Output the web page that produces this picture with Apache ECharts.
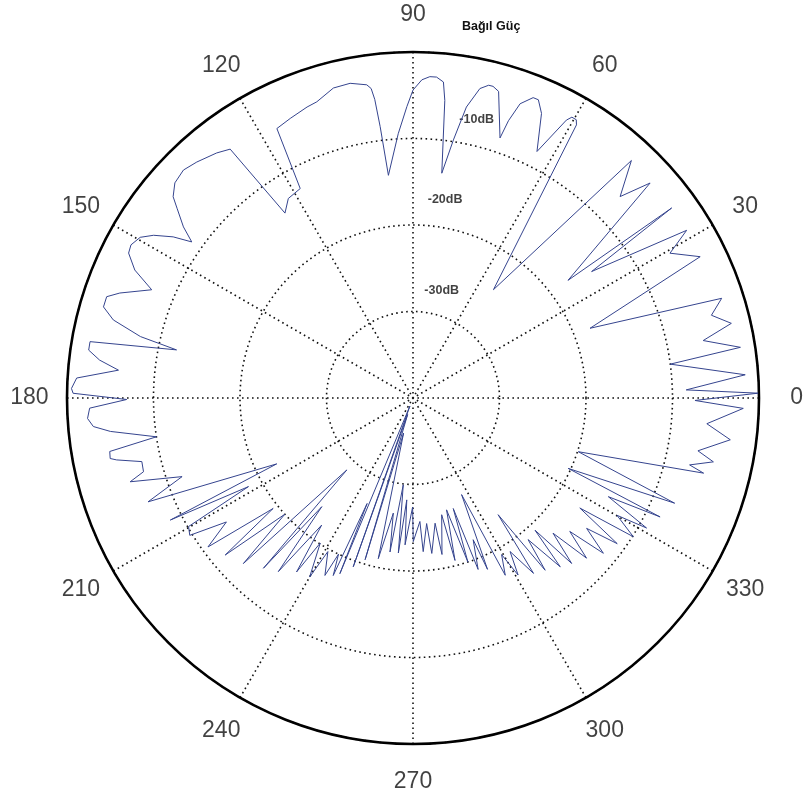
<!DOCTYPE html>
<html><head><meta charset="utf-8">
<script src="https://cdn.jsdelivr.net/npm/echarts@6/dist/echarts.min.js"></script>
<style>html,body{margin:0;padding:0;background:#fff}#c{width:808px;height:799px}</style>
</head><body><div id="c"></div>
<script>
// Pattern trace: angle (degrees) and relative power (dB)
const angles = [
  0.8, 1.7, 4.0, 7.5, 8.8, 11.2, 13.2, 15.5, 17.9, 21.5,
  26.2, 29.4, 31.5, 35.3, 36.3, 37.2, 42.2, 44.2, 47.4, 53.4,
  59.1, 59.6, 60.5, 61.1, 63.3, 65.7, 67.2, 68.2, 70.0, 71.0,
  71.5, 74.4, 75.6, 76.4, 77.8, 79.6, 81.1, 82.7, 83.9, 84.5,
  85.8, 87.0, 88.4, 90.0, 91.2, 93.2, 96.3, 96.9, 97.3, 97.7,
  98.4, 101.3, 104.4, 108.0, 110.0, 113.7, 116.8, 118.3, 122.0, 124.7,
  126.3, 128.7, 132.5, 135.2, 137.9, 140.0, 141.2, 143.3, 144.8, 146.1,
  147.9, 149.5, 151.5, 153.0, 155.3, 157.5, 160.3, 161.7, 163.6, 165.4,
  167.3, 168.5, 170.1, 171.6, 173.1, 174.6, 176.6, 178.4, 179.2, 180.3,
  181.8, 183.6, 185.1, 186.3, 188.6, 190.0, 191.3, 191.8, 193.2, 195.3,
  196.5, 198.8, 201.4, 205.8, 206.7, 208.3, 209.8, 211.6, 213.6, 216.0,
  218.3, 219.9, 222.2, 224.3, 227.4, 228.7, 230.0, 232.2, 234.3, 236.2,
  237.4, 240.0, 241.0, 243.6, 244.5, 245.8, 246.5, 247.4, 249.0, 250.5,
  252.0, 253.5, 255.0, 257.8, 260.3, 261.5, 263.6, 264.6, 266.5, 266.9,
  269.8, 270.1, 273.2, 273.8, 276.2, 276.9, 280.0, 280.5, 283.8, 284.5,
  286.7, 288.5, 290.0, 290.8, 293.0, 293.5, 296.7, 297.5, 299.5, 300.7,
  302.3, 304.5, 306.1, 307.5, 309.1, 311.1, 312.7, 313.8, 316.0, 317.3,
  319.6, 320.8, 323.1, 324.5, 326.6, 327.8, 330.1, 330.9, 333.2, 334.3,
  335.6, 338.1, 342.0, 345.5, 346.4, 348.0, 349.5, 352.5, 355.0, 358.2,
  359.5, 360.8
];
const gainDb = [
  -0.1, -8.4, -1.5, -10.0, -1.7, -5.8, -2.2, -4.2, -2.5, -18.0,
  -3.0, -5.9, -2.9, -14.7, -2.9, -17.5, -3.0, -6.6, -2.7, -24.4,
  -3.2, -2.7, -2.7, -3.3, -8.1, -3.9, -2.6, -2.6, -3.8, -6.1,
  -8.3, -3.2, -2.8, -2.8, -3.4, -5.8, -9.8, -13.8, -5.4, -3.3,
  -2.8, -2.8, -3.2, -4.4, -6.3, -9.4, -14.1, -8.4, -5.2, -3.9,
  -3.4, -2.9, -3.0, -4.0, -4.2, -4.7, -5.1, -12.5, -12.8, -14.0,
  -4.3, -3.7, -3.0, -2.6, -2.9, -3.8, -5.0, -6.9, -8.7, -6.6,
  -4.6, -3.4, -2.9, -3.1, -4.6, -7.3, -4.0, -2.7, -2.7, -4.2,
  -7.7, -12.1, -2.1, -2.1, -3.5, -5.8, -1.05, -0.5, -0.7, -6.9,
  -2.6, -2.3, -2.9, -4.8, -10.0, -4.4, -4.3, -5.0, -7.8, -7.7,
  -5.9, -11.8, -7.1, -22.5, -8.6, -18.4, -10.1, -9.7, -14.1, -10.7,
  -19.4, -11.7, -20.0, -12.6, -28.7, -13.8, -23.6, -14.6, -21.9, -15.8,
  -20.1, -16.1, -19.7, -17.1, -20.0, -17.5, -26.7, -18.0, -39.0, -19.3,
  -38.0, -20.5, -35.8, -21.0, -26.5, -22.0, -29.9, -22.0, -28.2, -23.0,
  -27.4, -23.4, -25.7, -22.2, -25.4, -21.9, -25.3, -21.6, -26.1, -20.6,
  -26.5, -20.0, -26.4, -18.8, -22.2, -18.4, -27.5, -16.9, -19.2, -16.2,
  -19.0, -15.4, -23.3, -14.9, -18.9, -14.1, -19.2, -13.5, -17.5, -12.7,
  -16.2, -11.6, -14.9, -11.0, -16.9, -9.9, -12.8, -9.1, -14.7, -8.3,
  -20.3, -7.4, -19.9, -5.3, -7.1, -4.5, -6.5, -3.0, -5.9, -1.8,
  -7.4, -0.1
];
const angleTicks = [0, 30, 60, 90, 120, 150, 180, 210, 240, 270, 300, 330];
const ringLabels = ['-10dB', '-20dB', '-30dB'];
const ringLabelDb = [-7.0, -16.8, -27.1];
const ringLabelAngle = [77.1, 80.8, 75.1];
const titleText = 'Bağıl Güç';

const R_MIN = -40, R_MAX = 0;
const TICK_LABEL_R = 4.34; // just outside the outer ring, in axis units

const trace = angles.map((a, i) => [gainDb[i], a]);
const tickLabelData = angleTicks.map(a => ({ value: [TICK_LABEL_R, a], name: String(a) }));
const ringLabelData = ringLabels.map((t, i) => ({ value: [ringLabelDb[i], ringLabelAngle[i]], name: t }));

const dotted = { color: '#111', width: 1.6, type: [1.6, 3.4] };
const chart = echarts.init(document.getElementById('c'), null, { renderer: 'canvas' });
chart.setOption({
  backgroundColor: '#fff',
  animation: false,
  title: {
    text: titleText, left: 457, top: 15,
    textStyle: { fontFamily: 'Liberation Sans, Arial, sans-serif', fontSize: 12.5, fontWeight: 'bold', color: '#111' }
  },
  polar: { center: [413, 398], radius: [0, 346] },
  angleAxis: {
    type: 'value', min: 0, max: 360, interval: 30, startAngle: 0, clockwise: false,
    axisLine: { show: true, lineStyle: { color: '#000', width: 2.6 } },
    axisTick: { show: false }, axisLabel: { show: false },
    splitLine: { show: true, lineStyle: dotted }
  },
  radiusAxis: {
    type: 'value', min: R_MIN, max: R_MAX, interval: 10,
    axisLine: { show: false }, axisTick: { show: false }, axisLabel: { show: false },
    splitLine: { show: true, lineStyle: dotted }
  },
  series: [
    {
      type: 'line', coordinateSystem: 'polar', data: trace, showSymbol: false, symbol: 'none',
      lineStyle: { color: '#35448e', width: 1 }, clip: false, z: 3
    },
    {
      type: 'scatter', coordinateSystem: 'polar', data: tickLabelData, symbolSize: 1, clip: false,
      itemStyle: { color: 'rgba(0,0,0,0)' },
      label: { show: true, position: 'inside', formatter: p => p.name,
        fontFamily: 'Liberation Sans, Arial, sans-serif', fontSize: 23, color: '#111' }
    },
    {
      type: 'scatter', coordinateSystem: 'polar', data: ringLabelData, symbolSize: 1, clip: false,
      itemStyle: { color: 'rgba(0,0,0,0)' },
      label: { show: true, position: 'inside', formatter: p => p.name,
        fontFamily: 'Liberation Sans, Arial, sans-serif', fontSize: 12.5, fontWeight: 'bold', color: '#111' }
    }
  ]
});
</script></body></html>
